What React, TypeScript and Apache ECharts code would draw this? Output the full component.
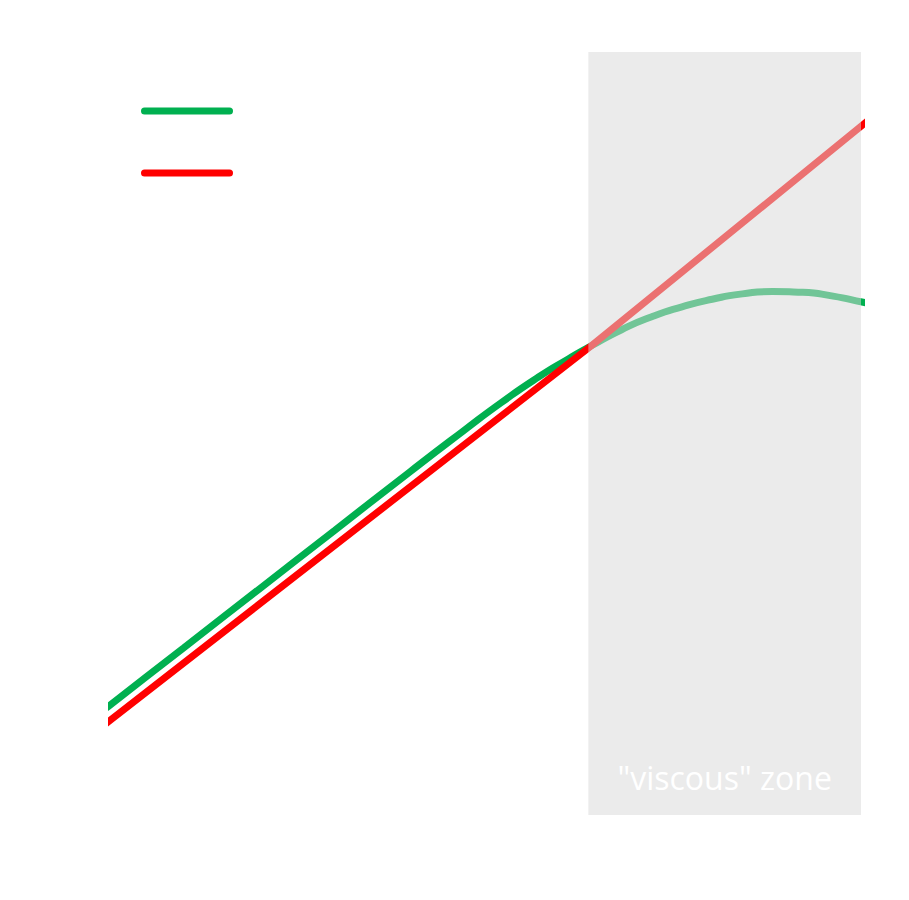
import React, { useEffect, useRef } from "react";
import * as echarts from "echarts";

const seriesNames = ["real response", "linear"];
const greenX = [-2, 0, 10, 20, 30, 40, 47, 52, 57, 61, 64, 68, 72, 76, 80, 84, 88, 92, 96, 100, 102];
const greenY = [12.6, 14.2, 21.9, 29.6, 37.3, 45.0, 50.3, 54.0, 57.4, 59.8, 61.5, 63.6, 65.3, 66.6, 67.6, 68.3, 68.6, 68.5, 68.0, 67.2, 66.8];
const redX = [-2, 0, 64, 100, 102];
const redY = [10.6, 12.2, 61.5, 90.5, 92.1];
const zoneStart = 63.6;
const zoneEnd = 99.7;
const zoneLabel = '"viscous" zone';

const capsule =
  "path://M3.5,0 H88.5 A3.5,3.5 0 0 1 88.5,7 H3.5 A3.5,3.5 0 0 1 3.5,0 Z";

export default function App() {
  const ref = useRef<HTMLDivElement>(null);
  useEffect(() => {
    if (!ref.current) return;
    const chart = echarts.init(ref.current, null, { renderer: "svg" });
    chart.setOption({
      animation: false,
      backgroundColor: "#ffffff",
      grid: { left: 112, right: 48, top: 52, bottom: 85 },
      xAxis: {
        type: "value",
        min: 0.53,
        max: 99.7,
        show: false,
        splitLine: { show: false },
      },
      yAxis: {
        type: "value",
        min: 0,
        max: 100,
        show: false,
        splitLine: { show: false },
      },
      legend: {
        orient: "vertical",
        left: 136,
        top: 91,
        itemWidth: 93,
        itemHeight: 7,
        itemGap: 32,
        icon: capsule,
        textStyle: {
          color: "#ffffff",
          fontSize: 26,
          lineHeight: 30,
          fontFamily: "Open Sans",
        },
        data: seriesNames,
      },
      series: [
        {
          name: seriesNames[0],
          type: "line",
          smooth: 0.6,
          showSymbol: false,
          clip: true,
          color: "#00B050",
          lineStyle: { width: 7, color: "#00B050" },
          data: greenX.map((x, i) => [x, greenY[i]]),
          z: 2,
        },
        {
          name: seriesNames[1],
          type: "line",
          showSymbol: false,
          clip: true,
          color: "#FF0000",
          lineStyle: { width: 7, color: "#FF0000" },
          data: redX.map((x, i) => [x, redY[i]]),
          z: 3,
          markArea: {
            z: 10,
            silent: true,
            itemStyle: { color: "rgba(216,216,216,0.52)" },
            label: {
              show: true,
              position: "insideBottom",
              distance: 22,
              color: "#ffffff",
              fontSize: 32,
              fontFamily: "Open Sans",
            },
            data: [[{ xAxis: zoneStart, yAxis: 0, name: zoneLabel }, { xAxis: zoneEnd, yAxis: 100 }]],
          },
        },
      ],
    });
    return () => chart.dispose();
  }, []);
  return (
    <div
      ref={ref}
      style={{ position: "fixed", left: 0, top: 0, width: 909, height: 900 }}
    />
  );
}
